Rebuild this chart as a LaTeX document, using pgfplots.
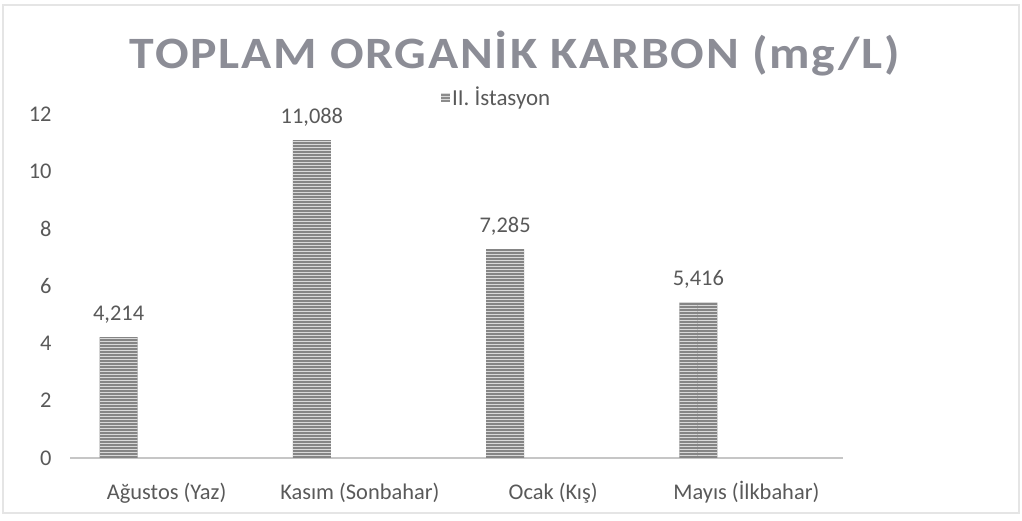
\documentclass[border=0pt]{standalone}
\usepackage{pgfplots}
\pgfplotsset{compat=1.18}
\usepackage{fontspec}
\setmainfont{Carlito}
\usetikzlibrary{patterns}
\definecolor{txt}{HTML}{595959}
\definecolor{ttl}{HTML}{8C8D96}
\begin{document}
\begin{tikzpicture}[x=1bp,y=1bp]
\path[use as bounding box] (0,0) rectangle (1022,521);
\draw[gray!20, line width=1.5bp] (3,8) rectangle (1019,516);
\node[anchor=base, font=\fontsize{45}{50}\selectfont\bfseries\addfontfeature{LetterSpace=4,FakeStretch=1.11}, text=ttl] at (515,452) {TOPLAM ORGANİK KARBON (mg/L)};
\begin{axis}[
  at={(70bp,63bp)}, anchor=south west,
  scale only axis, width=773bp, height=344bp,
  xmin=-0.5, xmax=3.5, ymin=0, ymax=12,
  axis x line*=bottom, axis y line*=left,
  y axis line style={draw=none},
  x axis line style={draw=gray!45, line width=2bp},
  major tick length=0pt,
  xtick={0,1,2,3},
  xticklabels={{Ağustos (Yaz)},{Kasım (Sonbahar)},{Ocak (Kış)},{Mayıs (İlkbahar)}},
  ytick={0,2,4,6,8,10,12},
  /pgf/number format/assume math mode=true,
  ticklabel style={font=\fontsize{22.5}{26}\selectfont, text=txt},
  yticklabel style={anchor=east, xshift=-15bp},
  xticklabel style={anchor=base, yshift=-42bp},
  legend style={at={(0.552,1.049)}, anchor=center, draw=none, fill=none,
    font=\fontsize{23}{26}\selectfont, text=txt, inner sep=0pt},
  legend image code/.code={\fill[black!45] (0bp,-4.5bp) rectangle (9bp,4.5bp);},
  nodes near coords,
  nodes near coords style={font=\fontsize{22.5}{26}\selectfont, text=txt, anchor=base, xshift=-48bp, yshift=17bp,
    /pgf/number format/.cd, use comma, fixed, fixed zerofill, precision=3, assume math mode=true},
]
\addplot[ybar, bar width=38bp, bar shift=-48bp, draw=none, fill=black!48,
  postaction={pattern=horizontal lines, pattern color=white!85!black}]
  coordinates {(0,4.214) (1,11.088) (2,7.285) (3,5.416)};
\addlegendentry{II. İstasyon}
\end{axis}
\end{tikzpicture}
\end{document}
